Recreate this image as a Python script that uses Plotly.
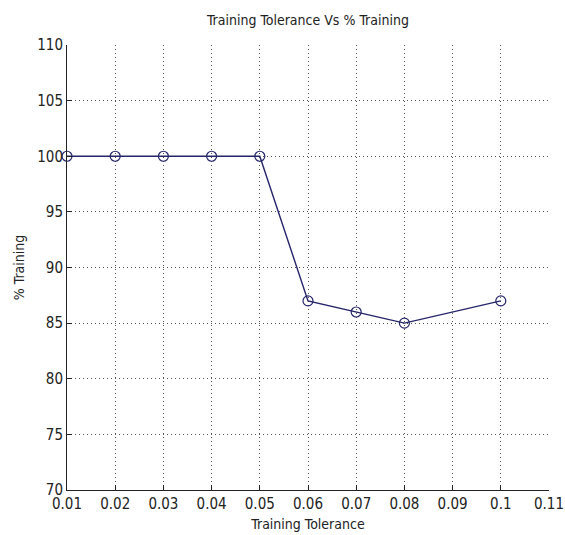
import plotly.graph_objects as go

tolerance = [0.01, 0.02, 0.03, 0.04, 0.05, 0.06, 0.07, 0.08, 0.1]
training_pct = [100, 100, 100, 100, 100, 87, 86, 85, 87]

x_tickvals = [0.01, 0.02, 0.03, 0.04, 0.05, 0.06, 0.07, 0.08, 0.09, 0.1, 0.11]
x_ticktext = ["0.01", "0.02", "0.03", "0.04", "0.05", "0.06", "0.07", "0.08", "0.09", "0.1", "0.11"]
y_tickvals = [70, 75, 80, 85, 90, 95, 100, 105, 110]

font_family = "DejaVu Sans Condensed, Liberation Sans Narrow, Liberation Sans, Arial, sans-serif"
line_color = "#25256a"

fig = go.Figure()
fig.add_trace(go.Scatter(
    x=tolerance, y=training_pct, mode="lines+markers",
    line=dict(color=line_color, width=1.4),
    marker=dict(symbol="circle-open", size=10, color=line_color, line=dict(width=1.2)),
    cliponaxis=False, showlegend=False,
))

axis_common = dict(
    showgrid=True, gridcolor="#555555", griddash="1px 3px", gridwidth=1,
    ticks="inside", ticklen=5, tickcolor="#222222", tickwidth=1,
    showline=True, linecolor="#222222", linewidth=1, mirror=False,
    zeroline=False, automargin=False,
    tickfont=dict(family=font_family, size=15, color="#222222"),
)

fig.update_xaxes(
    range=[0.01, 0.11], tickvals=x_tickvals, ticktext=x_ticktext,
    title=dict(text="Training Tolerance", font=dict(family=font_family, size=14, color="#222222"), standoff=7),
    **axis_common,
)
fig.update_yaxes(
    range=[70, 110], tickvals=y_tickvals,
    title=dict(text="% Training", font=dict(family=font_family, size=14, color="#222222"), standoff=9),
    **axis_common,
)

fig.update_layout(
    width=565, height=535,
    margin=dict(l=67, r=16, t=45, b=45),
    paper_bgcolor="white", plot_bgcolor="white",
    title=dict(text="Training Tolerance Vs % Training", x=0.545, xanchor="center", y=0.962, yanchor="middle",
               font=dict(family=font_family, size=14, color="#222222")),
)

fig.write_html("out.html")
